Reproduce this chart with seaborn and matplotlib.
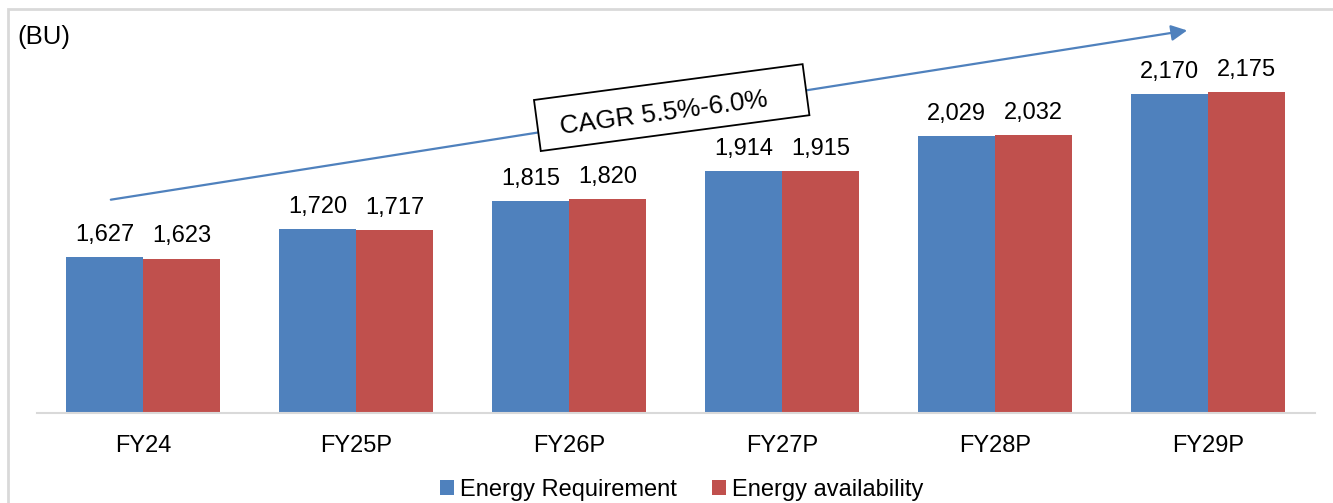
import pandas as pd
import seaborn as sns
import matplotlib.pyplot as plt
from matplotlib.patches import Rectangle
from matplotlib.transforms import Affine2D

# Datos del gráfico
years = ['FY24', 'FY25P', 'FY26P', 'FY27P', 'FY28P', 'FY29P']
requirement = [1627, 1720, 1815, 1914, 2029, 2170]
availability = [1623, 1717, 1820, 1915, 2032, 2175]
series_names = ['Energy Requirement', 'Energy availability']
colors = ['#4F81BD', '#C0504D']

df = pd.DataFrame({
    'year': years * 2,
    'value': requirement + availability,
    'series': [series_names[0]] * len(years) + [series_names[1]] * len(years),
})

sns.set_style('white')
plt.rcParams['font.family'] = ['Liberation Sans', 'DejaVu Sans']
plt.rcParams['text.color'] = 'black'
plt.rcParams['xtick.color'] = 'black'

fig = plt.figure(figsize=(13.33, 5.03), dpi=100)
ax = fig.add_axes([36.5 / 1333, 90 / 503, 1278 / 1333, 393 / 503])

sns.barplot(data=df, x='year', y='value', hue='series', palette=colors,
            saturation=1, width=0.723, gap=0, linewidth=0, ax=ax)

for cont in ax.containers:
    ax.bar_label(cont, labels=[f'{v:,.0f}' for v in cont.datavalues],
                 padding=8, fontsize=17, color='black')

ax.set_ylim(1110, 1110 + 393 / 0.3011)
ax.set_xlim(-0.5, len(years) - 0.5)
ax.set_xlabel('')
ax.set_ylabel('')
ax.set_yticks([])
ax.tick_params(axis='x', length=0, pad=15.5, labelsize=17)
for s in ['top', 'right', 'left']:
    ax.spines[s].set_visible(False)
ax.spines['bottom'].set_color('#D9D9D9')
ax.spines['bottom'].set_linewidth(1.5)

# Flecha CAGR
ax.annotate('', xy=(4.915, 2382), xytext=(-0.164, 1817),
            arrowprops=dict(arrowstyle='-|>', color='#4F81BD', lw=1.6,
                            mutation_scale=24))

# Recuadro girado (coordenadas en píxeles de la figura)
box_tr = Affine2D().rotate_deg(7.6).translate(6.717, 5.03 - 1.076) + fig.dpi_scale_trans
fig.patches.append(Rectangle((-1.355, -0.2575), 2.71, 0.515, transform=box_tr,
                             fc='white', ec='black', lw=1.3, zorder=5))
fig.text(664 / 1333, 1 - 113 / 503, 'CAGR 5.5%-6.0%', fontsize=18.7,
         rotation=7.6, rotation_mode='anchor', ha='center', va='center',
         zorder=6)

ax.legend(loc='center', bbox_to_anchor=(0.505, -0.195), ncol=2, frameon=False,
          fontsize=17, handlelength=0.58, handleheight=0.58,
          handletextpad=0.25, columnspacing=1.5)

fig.text(17 / 1333, 1 - 37 / 503, '(BU)', fontsize=18.5, va='center')
fig.patches.append(Rectangle((8 / 1333, -0.05), 1.1, 1 - 9 / 503 + 0.05,
                             transform=fig.transFigure, fill=False,
                             ec='#D9D9D9', lw=2))

fig.savefig('out.png', dpi=100)
